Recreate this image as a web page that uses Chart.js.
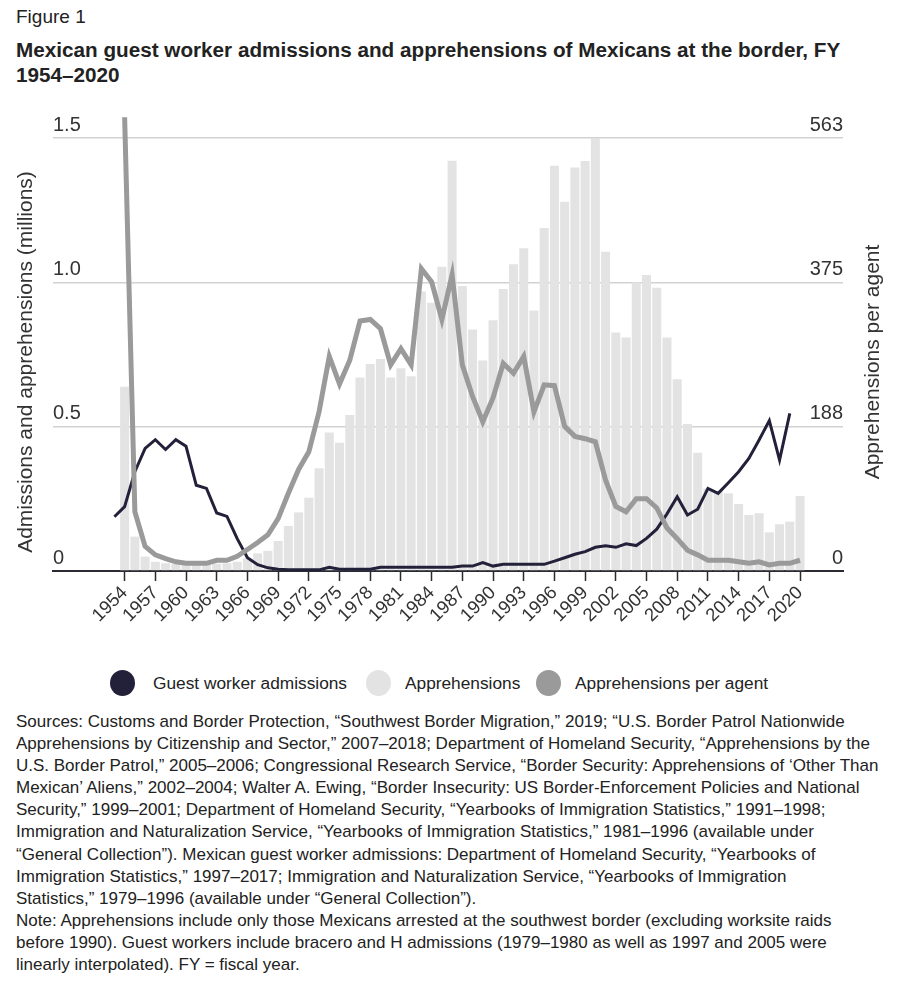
<!DOCTYPE html>
<html>
<head>
<meta charset="utf-8">
<script src="https://cdn.jsdelivr.net/npm/chart.js@4.4.1/dist/chart.umd.min.js"></script>
<style>
  body { margin: 0; width: 898px; height: 991px; background: #fff; font-family: "Liberation Sans", Arial, sans-serif; color: #222; position: relative; overflow: hidden; }
  .fig { position: absolute; left: 16px; top: 7px; font-size: 19px; line-height: 20px; }
  .ttl { position: absolute; left: 16px; top: 37px; font-size: 20.7px; line-height: 25px; font-weight: bold; white-space: nowrap; }
  #wrap { position: absolute; left: 0; top: 100px; width: 898px; height: 560px; }
  .leg { position: absolute; top: 670px; height: 26px; font-size: 17.3px; line-height: 26px; white-space: nowrap; }
  .leg i { position: absolute; left: 0; top: 0; width: 25px; height: 26px; border-radius: 50%; }
  .leg span { position: absolute; top: 0; }
  .src { position: absolute; left: 16px; top: 711px; font-size: 17px; line-height: 22.1px; white-space: nowrap; }
</style>
</head>
<body>
<div class="fig">Figure 1</div>
<div class="ttl">Mexican guest worker admissions and apprehensions of Mexicans at the border, FY<br>1954–2020</div>
<div id="wrap"><canvas id="grafica" width="898" height="560"></canvas></div>
<div id="leyenda"></div>
<div class="src">
Sources: Customs and Border Protection, “Southwest Border Migration,” 2019; “U.S. Border Patrol Nationwide<br>
Apprehensions by Citizenship and Sector,” 2007–2018; Department of Homeland Security, “Apprehensions by the<br>
U.S. Border Patrol,” 2005–2006; Congressional Research Service, “Border Security: Apprehensions of ‘Other Than<br>
Mexican’ Aliens,” 2002–2004; Walter A. Ewing, “Border Insecurity: US Border-Enforcement Policies and National<br>
Security,” 1999–2001; Department of Homeland Security, “Yearbooks of Immigration Statistics,” 1991–1998;<br>
Immigration and Naturalization Service, “Yearbooks of Immigration Statistics,” 1981–1996 (available under<br>
“General Collection”). Mexican guest worker admissions: Department of Homeland Security, “Yearbooks of<br>
Immigration Statistics,” 1997–2017; Immigration and Naturalization Service, “Yearbooks of Immigration<br>
Statistics,” 1979–1996 (available under “General Collection”).<br>
Note: Apprehensions include only those Mexicans arrested at the southwest border (excluding worksite raids<br>
before 1990). Guest workers include bracero and H admissions (1979–1980 as well as 1997 and 2005 were<br>
linearly interpolated). FY = fiscal year.
</div>
<script>
/* ---------- datos ---------- */
// apprehensions + per agent: FY 1954..2020
const YEARS = Array.from({ length: 67 }, (_, i) => 1954 + i);

const APPREHENSIONS = [ // millions
  0.638, 0.119, 0.050, 0.032, 0.027, 0.024, 0.022, 0.022, 0.023, 0.025,
  0.027, 0.032, 0.044, 0.061, 0.070, 0.104, 0.156, 0.203, 0.254, 0.356,
  0.480, 0.444, 0.540, 0.670, 0.717, 0.734, 0.670, 0.702, 0.675, 0.968,
  0.929, 1.054, 1.421, 0.987, 0.837, 0.729, 0.869, 0.977, 1.063, 1.118,
  0.902, 1.188, 1.404, 1.279, 1.398, 1.420, 1.524, 1.106, 0.826, 0.809,
  0.999, 1.025, 0.981, 0.809, 0.664, 0.509, 0.410, 0.286, 0.277, 0.269,
  0.232, 0.194, 0.200, 0.134, 0.162, 0.171, 0.260
];

const PER_AGENT = [
  590, 77, 32, 21, 16, 12, 10, 10, 10, 14,
  14, 19, 28, 37, 47, 68, 101, 132, 155, 207,
  279, 243, 274, 325, 327, 315, 268, 289, 268, 393,
  376, 327, 385, 268, 227, 194, 225, 270, 257, 279,
  207, 242, 241, 188, 175, 172, 168, 118, 84, 77,
  94, 94, 82, 56, 42, 27, 21, 14, 14, 14,
  12, 10, 12, 8, 10, 10, 14
];

// guest worker line sits one slot to the left in the original figure (1953..2019)
const GUEST_YEARS = Array.from({ length: 67 }, (_, i) => 1953 + i);
const GUEST_WORKERS = [ // millions
  0.188, 0.223, 0.344, 0.425, 0.455, 0.421, 0.455, 0.432, 0.297, 0.286,
  0.201, 0.189, 0.112, 0.046, 0.022, 0.011, 0.006, 0.004, 0.004, 0.004,
  0.004, 0.013, 0.006, 0.006, 0.006, 0.006, 0.013, 0.013, 0.013, 0.013,
  0.013, 0.013, 0.013, 0.013, 0.017, 0.017, 0.029, 0.017, 0.023, 0.023,
  0.023, 0.023, 0.023, 0.034, 0.046, 0.058, 0.067, 0.082, 0.087, 0.082,
  0.094, 0.088, 0.113, 0.145, 0.198, 0.257, 0.194, 0.214, 0.286, 0.269,
  0.306, 0.344, 0.390, 0.454, 0.521, 0.384, 0.546
];

const X_TICKS = [1954, 1957, 1960, 1963, 1966, 1969, 1972, 1975, 1978, 1981, 1984, 1987,
                 1990, 1993, 1996, 1999, 2002, 2005, 2008, 2011, 2014, 2017, 2020];
const LEFT_TICKS  = [0, 0.5, 1.0, 1.5];
const LEFT_LABELS = ['0', '0.5', '1.0', '1.5'];
const RIGHT_TICKS = [0, 188, 375, 563];

const SERIES = [
  { label: 'Guest worker admissions', color: '#23203a', x: 110 },
  { label: 'Apprehensions',           color: '#e3e3e3', x: 366 },
  { label: 'Apprehensions per agent', color: '#9a9a9a', x: 536 }
];

const FONT = '"Liberation Sans", Arial, sans-serif';

/* ---------- titulos de ejes ---------- */
const titulosEjes = {
  id: 'titulosEjes',
  afterDraw(chart) {
    const ctx = chart.ctx;
    ctx.save();
    ctx.font = '21px ' + FONT;
    ctx.fillStyle = '#333';
    ctx.textAlign = 'center';
    ctx.textBaseline = 'middle';
    ctx.translate(26, 262);
    ctx.rotate(-Math.PI / 2);
    ctx.fillText('Admissions and apprehensions (millions)', 0, 0);
    ctx.restore();
    ctx.save();
    ctx.font = '21px ' + FONT;
    ctx.fillStyle = '#333';
    ctx.textAlign = 'center';
    ctx.textBaseline = 'middle';
    ctx.translate(873, 262);
    ctx.rotate(-Math.PI / 2);
    ctx.fillText('Apprehensions per agent', 0, 0);
    ctx.restore();
  }
};

/* ---------- grafica ---------- */
new Chart(document.getElementById('grafica'), {
  type: 'bar',
  data: {
    datasets: [
      {
        type: 'line',
        label: SERIES[2].label,
        data: YEARS.map((y, i) => ({ x: y, y: PER_AGENT[i] })),
        yAxisID: 'y2',
        borderColor: SERIES[2].color,
        borderWidth: 5,
        pointRadius: 0,
        tension: 0,
        clip: false,
        order: 0
      },
      {
        type: 'line',
        label: SERIES[0].label,
        data: GUEST_YEARS.map((y, i) => ({ x: y, y: GUEST_WORKERS[i] })),
        yAxisID: 'y',
        borderColor: SERIES[0].color,
        borderWidth: 3,
        pointRadius: 0,
        tension: 0,
        order: 1
      },
      {
        type: 'bar',
        label: SERIES[1].label,
        data: YEARS.map((y, i) => ({ x: y, y: APPREHENSIONS[i] })),
        yAxisID: 'y',
        backgroundColor: SERIES[1].color,
        borderWidth: 0,
        barPercentage: 0.88,
        categoryPercentage: 1,
        order: 2
      }
    ]
  },
  options: {
    responsive: false,
    animation: false,
    layout: { padding: { left: 53, right: 55, top: 38, bottom: 0 } },
    plugins: { legend: { display: false }, tooltip: { enabled: false } },
    scales: {
      x: {
        type: 'linear',
        offset: false,
        min: 1947,
        max: 2024.2,
        afterBuildTicks: s => { s.ticks = X_TICKS.map(v => ({ value: v })); },
        afterFit: s => { s.height = 89; },
        ticks: {
          autoSkip: false,
          minRotation: 45,
          maxRotation: 45,
          padding: 1,
          color: '#333',
          font: { family: FONT, size: 18.5 },
          callback: v => String(v)
        },
        grid: { offset: false, drawOnChartArea: false, drawTicks: true, tickLength: 10, tickColor: '#2a2a33', tickWidth: 1.5 },
        border: { display: true, color: '#2a2a33', width: 2 }
      },
      y: {
        position: 'left',
        min: 0,
        max: 1.5,
        afterBuildTicks: s => { s.ticks = LEFT_TICKS.map(v => ({ value: v })); },
        ticks: {
          mirror: true,
          padding: 0,
          labelOffset: -13,
          color: '#333',
          font: { family: FONT, size: 20 },
          callback: (v, i) => LEFT_LABELS[i]
        },
        grid: { color: '#d2d2d2', lineWidth: 1.5, drawTicks: false },
        border: { display: false }
      },
      y2: {
        position: 'right',
        min: 0,
        max: 563,
        afterBuildTicks: s => { s.ticks = RIGHT_TICKS.map(v => ({ value: v })); },
        ticks: {
          mirror: true,
          padding: 0,
          labelOffset: -13,
          color: '#333',
          font: { family: FONT, size: 20 },
          callback: v => String(v)
        },
        grid: { drawOnChartArea: false, drawTicks: false },
        border: { display: false }
      }
    }
  },
  plugins: [titulosEjes]
});

/* ---------- leyenda ---------- */
const cont = document.getElementById('leyenda');
SERIES.forEach(s => {
  const div = document.createElement('div');
  div.className = 'leg';
  div.style.left = s.x + 'px';
  div.innerHTML = `<i style="background:${s.color}"></i><span style="left:${s.x === 110 ? 43 : 39}px">${s.label}</span>`;
  cont.appendChild(div);
});
</script>
</body>
</html>
